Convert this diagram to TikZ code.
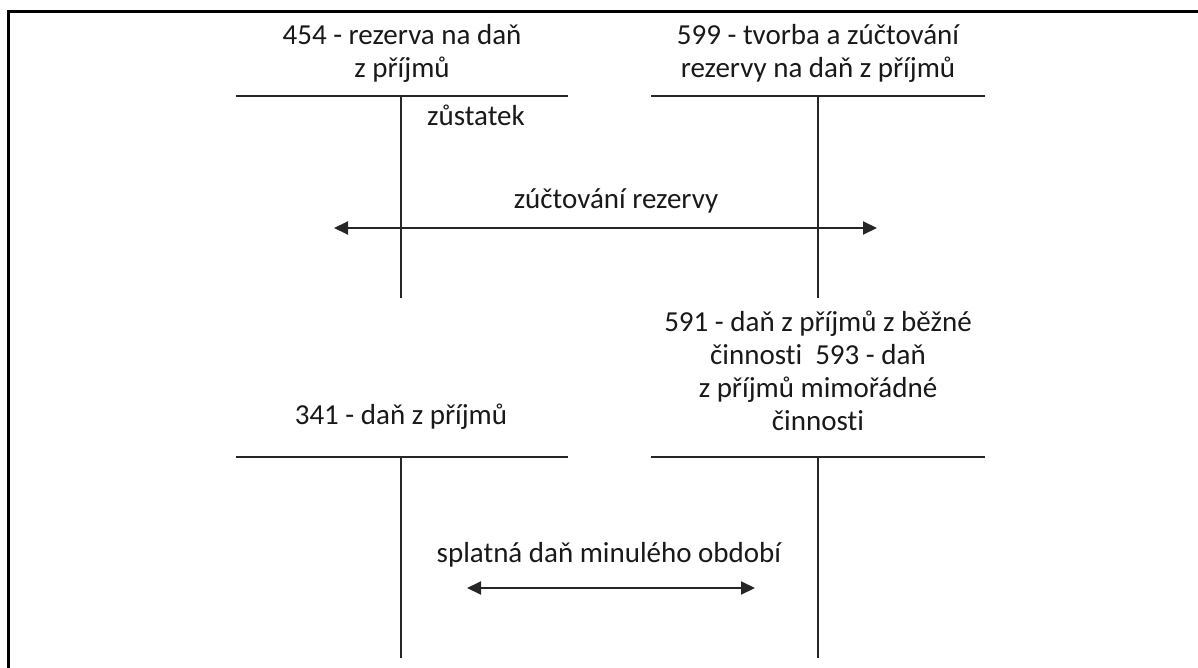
\documentclass[tikz,border=0pt]{standalone}
\usepackage{fontspec}
\setmainfont{Carlito}[Ligatures=NoCommon]
\usetikzlibrary{arrows.meta}
\begin{document}
\begin{tikzpicture}[x=1pt,y=-1pt,
  lbl/.style={inner sep=0pt, anchor=base, font=\fontsize{29}{33}\selectfont, text=black!90},
  title/.style={lbl, align=center},
  tline/.style={line width=2pt, black!85},
  frame/.style={line width=3pt, black},
  flow/.style={line width=2pt, black!85,
    {Triangle[length=14pt,width=13pt]}-{Triangle[length=14pt,width=13pt]}}]
\useasboundingbox (0,0) rectangle (1198,668);

% outer frame (top and left edges)
\coordinate (fb) at (8,668);
\coordinate (fc) at (8,12);
\coordinate (fr) at (1198,12);
\draw[frame] (fb) -- (fc) -- (fr);

% T-account 454 (title anchored at the baseline of its last line)
\coordinate (a1l) at (236,96);
\coordinate (a1r) at (568,96);
\coordinate (a1t) at (401,96);
\coordinate (a1b) at (401,298);
\draw[tline] (a1l) -- (a1r);
\draw[tline] (a1t) -- (a1b);
\node[title] (t454) at (402,78) {454 - rezerva na daň\\z příjmů};
\node[lbl] (zus) at (476,126) {zůstatek};

% T-account 599
\coordinate (a2l) at (651,96);
\coordinate (a2r) at (985,96);
\coordinate (a2t) at (818,96);
\coordinate (a2b) at (818,298);
\draw[tline] (a2l) -- (a2r);
\draw[tline] (a2t) -- (a2b);
\node[title] (t599) at (818,78) {599 - tvorba a zúčtování\\rezervy na daň z příjmů};

% reserve settlement
\node[lbl] (zuct) at (616,209) {zúčtování rezervy};
\coordinate (r1l) at (334,228);
\coordinate (r1r) at (877,228);
\draw[flow] (r1l) -- (r1r);

% T-account 341
\coordinate (a3l) at (236,457);
\coordinate (a3r) at (568,457);
\coordinate (a3t) at (401,457);
\coordinate (a3b) at (401,658);
\draw[tline] (a3l) -- (a3r);
\draw[tline] (a3t) -- (a3b);
\node[lbl] (t341) at (401,424) {341 - daň z příjmů};

% T-account 591 / 593
\coordinate (a4l) at (651,457);
\coordinate (a4r) at (985,457);
\coordinate (a4t) at (818,457);
\coordinate (a4b) at (818,658);
\draw[tline] (a4l) -- (a4r);
\draw[tline] (a4t) -- (a4b);
\node[title] (t591) at (818,430) {591 - daň z příjmů z běžné\\činnosti \ 593 - daň\\z příjmů mimořádné\\činnosti};

% tax payable of the previous period
\node[lbl] (spl) at (609,562) {splatná daň minulého období};
\coordinate (r2l) at (467,588);
\coordinate (r2r) at (755,588);
\draw[flow] (r2l) -- (r2r);
\end{tikzpicture}
\end{document}
